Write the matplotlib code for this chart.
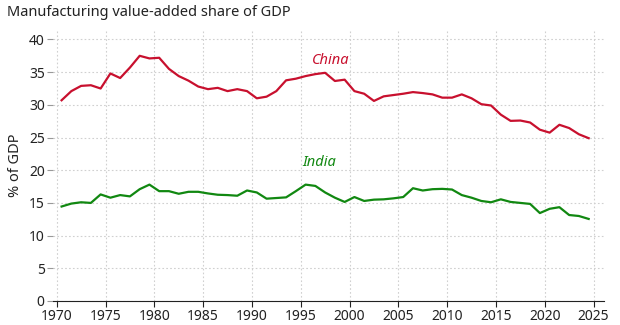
import matplotlib
matplotlib.use("Agg")
import matplotlib.pyplot as plt
import numpy as np

years = list(range(1970, 2025))
china = [30.7, 32.1, 32.9, 33.0, 32.5, 34.8, 34.1, 35.7, 37.5, 37.1, 37.2, 35.5, 34.4, 33.7, 32.8,
         32.4, 32.6, 32.1, 32.4, 32.1, 31.0, 31.25, 32.1, 33.75, 34.0, 34.4, 34.7, 34.9, 33.65, 33.85,
         32.1, 31.7, 30.6, 31.3, 31.5, 31.7, 31.95, 31.8, 31.6, 31.1, 31.1, 31.6, 31.0, 30.1, 29.9,
         28.5, 27.55, 27.6, 27.3, 26.2, 25.75, 26.95, 26.45, 25.5, 24.9]
india = [14.45, 14.9, 15.1, 15.0, 16.3, 15.8, 16.2, 16.0, 17.1, 17.8, 16.8, 16.8, 16.4, 16.7, 16.7,
         16.45, 16.25, 16.2, 16.1, 16.9, 16.6, 15.65, 15.75, 15.85, 16.8, 17.8, 17.6, 16.6, 15.8, 15.15,
         15.9, 15.3, 15.5, 15.55, 15.7, 15.9, 17.25, 16.9, 17.1, 17.15, 17.05, 16.2, 15.8, 15.3, 15.1,
         15.55, 15.15, 15.0, 14.85, 13.45, 14.1, 14.35, 13.15, 13.0, 12.55]
xticks = [1970, 1975, 1980, 1985, 1990, 1995, 2000, 2005, 2010, 2015, 2020, 2025]
yticks = [0, 5, 10, 15, 20, 25, 30, 35, 40]

plt.rcParams['font.family'] = ['Noto Sans', 'DejaVu Sans']

fig = plt.figure(figsize=(6.2, 3.25), dpi=100)
ax = fig.add_axes([53/620, 1 - 301/325, (604-53)/620, (301-29)/325])

x = np.array(years) + 0.5
red = '#c8102e'
green = '#118811'
ax.plot(x, china, color=red, lw=1.6, solid_joinstyle='round')
ax.plot(x, india, color=green, lw=1.6, solid_joinstyle='round')

ax.set_xlim(1969.62, 2026.07)
ax.set_ylim(0, 41.6)
ax.set_xticks(xticks)
ax.set_yticks(yticks)
ax.grid(True, color='#d0d0d0', linestyle=(0, (1.5, 2)), lw=0.8)
for s in ['top', 'right', 'left']:
    ax.spines[s].set_visible(False)
ax.spines['bottom'].set_color('#222222')
ax.tick_params(axis='x', length=4, color='#222222', labelsize=10, pad=2, colors='#222222')
ax.tick_params(axis='y', length=4, color='#999999', labelsize=10, pad=2, labelcolor='#222222')
ax.set_ylabel('% of GDP', fontsize=10.5, color='#222222', labelpad=4)

ax.text(1996.2, 36.85, 'China', color=red, style='italic', fontsize=10.5, va='center', ha='left')
ax.text(1995.2, 21.2, 'India', color=green, style='italic', fontsize=10.5, va='center', ha='left')

fig.text(7/620, 1 - 12/325, 'Manufacturing value-added share of GDP', fontsize=10.5, color='#222222',
         va='center', ha='left')

fig.savefig('out.png', dpi=100)
